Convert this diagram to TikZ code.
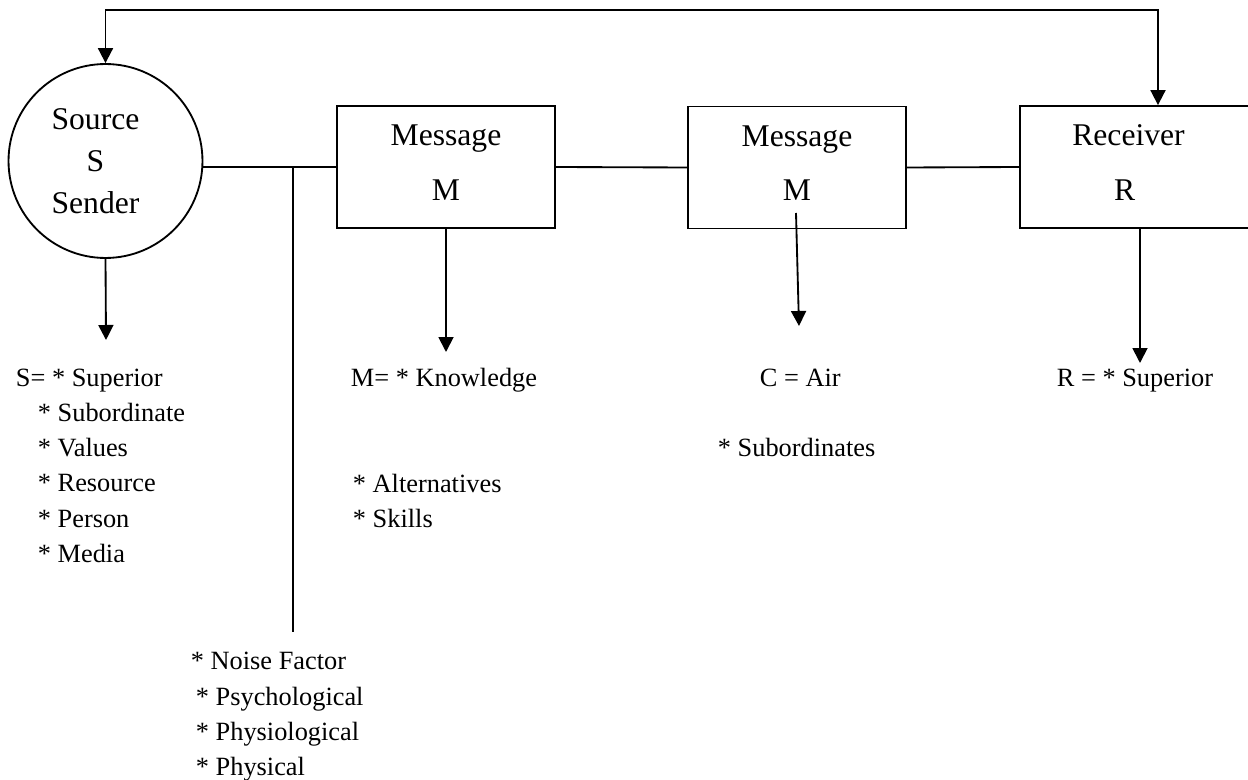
\documentclass[tikz,border=0pt]{standalone}
\usepackage{fontspec}
\setmainfont{Liberation Serif}
\usetikzlibrary{arrows.meta}

\begin{document}
\begin{tikzpicture}[x=0.02cm, y=-0.02cm, line width=1.05pt,
        font=\fontsize{15}{18}\selectfont,
        blk/.style={draw, rectangle, minimum width=4.36cm, minimum height=2.44cm, align=center, inner sep=0pt,
                    font=\fontsize{18}{21}\selectfont},
        arr/.style={-{Triangle[width=0.3cm,length=0.3cm]}},
        arrboth/.style={{Triangle[width=0.3cm,length=0.3cm]}-{Triangle[width=0.3cm,length=0.3cm]}},
        txt/.style={anchor=base west, inner sep=0pt}]
    \useasboundingbox (0,0) rectangle (1248,780);
    \clip (0,0) rectangle (1248,780);
    \node[draw, circle, minimum size=3.88cm,
          label={[align=center, xshift=-0.2cm, font=\fontsize{18}{21}\selectfont]center:Source\\[3pt]S\\[3pt]Sender}] (src) at (105.5,161) {};
    \node[blk] (msg1) at (446,167) {Message\\[10pt]M\\[-16pt]\mbox{}};
    \node[blk] (msg2) at (797,167.5) {Message\\[10pt]M\\[-16pt]\mbox{}};
    \node[blk, minimum width=4.64cm] (rec) at (1136,167) {Receiver\hspace*{0.3cm}\mbox{}\\[10pt]R\hspace*{0.45cm}\mbox{}\\[-16pt]\mbox{}};
    \draw (src.east |- msg1.west) -- (msg1.west);
    \draw (msg1.east) -- (msg2.west);
    \draw (msg2.east) -- (rec.west);
    \coordinate (fb) at (1158,10);
    \draw[arrboth] (src.north) |- (fb) -- (fb |- rec.north);
    \coordinate (nz) at (293,632);
    \draw[line width=0.8pt] (nz |- msg1.west) -- (nz);
    \coordinate (sdown) at (106,340);
    \draw[arr] (src.south) -- (sdown);
    \coordinate (m1down) at (446,352);
    \draw[arr] (msg1.south) -- (m1down);
    \coordinate (m2top) at (796,213);
    \coordinate (m2down) at (799,326);
    \draw[arr] (m2top) -- (m2down);
    \coordinate (rdown) at (1140,363);
    \draw[arr] (rdown |- rec.south) -- (rdown);
    \foreach \t/\xx/\yy [count=\i] in {{S= * Superior}/15/387, {* Subordinate}/37/422,
            {* Values}/37/457, {* Resource}/37/492, {* Person}/37/527, {* Media}/37/562}
        \node[txt] (sl\i) at (\xx,\yy) {\t};
    \foreach \t/\xx/\yy [count=\i] in {{M= * Knowledge}/350/387, {* Alternatives}/352/493,
            {* Skills}/352/527}
        \node[txt] (ml\i) at (\xx,\yy) {\t};
    \node[txt] (cl1) at (759,387) {C = Air};
    \node[txt] (cl2) at (717,457) {* Subordinates};
    \node[txt] (rl1) at (1056,387) {R = * Superior};
    \foreach \t/\xx/\yy [count=\i] in {{* Noise Factor}/190/669, {* Psychological}/195/705,
            {* Physiological}/195/740, {* Physical}/195/775}
        \node[txt] (nl\i) at (\xx,\yy) {\t};
\end{tikzpicture}
\end{document}
